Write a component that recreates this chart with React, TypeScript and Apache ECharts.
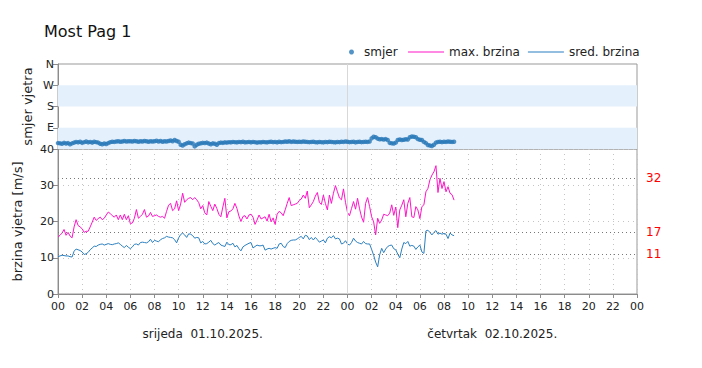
import React, { useEffect, useRef } from 'react';
import * as echarts from 'echarts';

const STEP_MIN = 10;
const TITLE = 'Most Pag 1';
const DATE_LABELS = ['srijeda  01.10.2025.', 'četvrtak  02.10.2025.'];
const DATE_CENTERS_H = [12, 36];
const DIR_LABELS: Record<number, string> = { 90: 'E', 180: 'S', 270: 'W', 360: 'N' };
const DIR_BANDS = [[0, 90], [180, 270]];
const THRESHOLDS = [32, 17, 11];
const MIDNIGHT_H = 24;
const DIR_AXIS_NAME = 'smjer vjetra';
const SPEED_AXIS_NAME = 'brzina vjetra [m/s]';

const MAX_SPEED = [
  15.7, 16.2, 16.8, 17.8, 16.2, 17,
  16, 15.5, 18.5, 20.5, 18.9, 18.5,
  18, 17, 17.3, 17.3, 18.5, 19.8,
  21.2, 20.3, 20.8, 21.2, 20.5, 20.9,
  21.8, 22.6, 22.2, 21.6, 21.2, 21.8,
  20.5, 21.8, 20.5, 22, 20.5, 21.6,
  19.4, 19.6, 20.9, 23.3, 20.9, 21.4,
  22, 23.3, 21.2, 21.5, 22.5, 21.4,
  21.6, 21.8, 21.4, 21.2, 21.4, 20.9,
  22.8, 24.5, 25, 23, 23.5, 25.7,
  23, 24.8, 27.8, 25.3, 26, 26.4,
  26.6, 26, 26.6, 26, 25.2, 23.5,
  24.4, 22.4, 21.8, 25.5, 24.2, 23,
  24.8, 23.6, 22, 21.3, 24, 26.4,
  21, 22.7, 22.9, 23.5, 25, 23.6,
  21.5, 20, 21.4, 21.6, 20.7, 21.8,
  22, 21.2, 19.2, 20.4, 21.8, 20.7,
  21, 21.3, 20.1, 22, 19.9, 21,
  19.2, 22, 22.8, 22.4, 21.6, 23.2,
  25, 26.6, 24.4, 24.6, 24.8, 25,
  25.8, 26.2, 27.3, 26.4, 28.4, 23.8,
  24.6, 25.5, 27, 28, 25.3, 24.7,
  27.3, 25, 23.2, 27.3, 25, 27.8,
  29.9, 28.2, 26.5, 26, 29, 25.3,
  22.5, 21.6, 23.6, 25.5, 23.4, 26.4,
  23.5, 21.2, 19.8, 25, 26.6, 24.1,
  21.3, 19.9, 16.3, 20.9, 19.5, 20.4,
  22, 21.8, 21.6, 22.3, 24.6, 21.7,
  24, 18.3, 23.2, 24.5, 26, 21.3,
  25, 26.6, 21.3, 21.1, 24.1, 23.2,
  20.8, 24.1, 24.6, 28.2, 29.1, 31.5,
  32.8, 33.7, 35.4, 28, 31.9, 29.1,
  31, 28.2, 29.6, 27.8, 27.4, 25.9,
];

const MEAN_SPEED = [
  10.3, 10.5, 10.7, 10.6, 10.5, 10.5,
  10.3, 10.2, 11.8, 12.4, 12.2, 12,
  11.6, 10.9, 11.1, 11.5, 12.2, 12.7,
  13.2, 13.1, 13.5, 13.7, 13.8, 13.5,
  13.7, 13.9, 13.7, 13.6, 13.8, 13.9,
  14.1, 13.7, 13.2, 12.8, 13.4, 12.9,
  12.5, 13, 13.7, 13.8, 13.5, 14.2,
  14.3, 14.2, 14.1, 14.4, 15.1, 14.2,
  14.8, 14.6, 14.4, 15, 15.3, 15.5,
  15.9, 15.7, 15.6, 15.5, 15, 14.1,
  15.5, 16.4, 16.8, 16.3, 15.6, 16.6,
  16.5, 16.1, 15.4, 15.6, 15.5, 14.1,
  14.5, 13.8, 13.9, 14.3, 14.8, 13.9,
  13.5, 13.9, 14.2, 13.5, 13.3, 13.1,
  14.3, 13.6, 13.6, 14, 13, 13.4,
  12.5, 11.9, 13, 13.4, 13.7, 14,
  14.2, 12.7, 13.1, 13.5, 13.3, 13.3,
  13.5, 12.1, 12.4, 12.6, 12.4, 12.6,
  12.8, 12.6, 13.8, 14, 13.1, 12.8,
  13.9, 14.5, 14.8, 14.9, 14.9, 15.2,
  15.6, 15.9, 15.2, 16.2, 16, 15,
  15.6, 14.9, 15.6, 15, 14.3, 14.6,
  14.9, 14.1, 15.4, 15.8, 15.5, 16.1,
  15.2, 15.4, 15.2, 13.8, 14, 14.7,
  13.8, 13.5, 14.2, 15.4, 14.6, 14.2,
  14, 13.8, 14.5, 13.9, 13.8, 13.8,
  12.3, 10.7, 8.8, 7.5, 10.8, 12.6,
  11.4, 12.4, 13.1, 13.4, 13.5, 12.5,
  12.2, 11, 10, 12.4, 14.2, 13.9,
  14.5, 13.2, 13.4, 13.2, 12.3, 13,
  13.5, 11.6, 11.2, 17.4, 17.6, 17,
  16.3, 17, 17.5, 16.5, 16.8, 16.5,
  16.7, 16.5, 15.3, 16.8, 16.3, 16.1,
];

const DIRECTION = [
  25, 24, 22, 26, 23, 25,
  20, 24, 27, 30, 28, 31,
  26, 29, 32, 28, 30, 27,
  31, 29, 27, 22, 20, 23,
  21, 25, 29, 31, 30, 32,
  33, 31, 32, 34, 32, 33,
  33, 32, 34, 33, 31, 33,
  32, 34, 33, 31, 33, 32,
  33, 35, 32, 34, 31, 33,
  32, 34, 36, 33, 38, 34,
  31, 18, 15, 20, 24, 27,
  25, 23, 11, 18, 22, 24,
  26, 25, 27, 23, 20, 24,
  22, 18, 25, 27, 26, 28,
  27, 29, 28, 30, 29, 28,
  30, 29, 31, 28, 29, 30,
  28, 30, 29, 27, 29, 28,
  30, 29, 28, 30, 31, 29,
  30, 28, 31, 29, 30, 32,
  31, 33, 30, 32, 31, 30,
  31, 30, 32, 31, 30, 29,
  30, 31, 29, 28, 30, 29,
  28, 30, 29, 31, 30, 29,
  28, 30, 29, 31, 30, 32,
  31, 29, 30, 31, 28, 30,
  31, 29, 30, 31, 30, 32,
  45, 52, 50, 44, 41, 42,
  40, 42, 38, 26, 24, 23,
  27, 38, 40, 38, 39, 41,
  40, 50, 53, 52, 50, 42,
  39, 38, 30, 25, 17, 15,
  13, 18, 27, 30, 31, 29,
  31, 30, 32, 31, 30, 31,
];

const FONT = 'DejaVu Sans';
const PINK = '#ff14c8';
const BLUE = '#2b7fbf';
const DOT = '#2878b8';
const AXIS_GREY = '#8c8c8c';

const toPoints = (arr: number[]) => arr.map((v, i) => [(i * STEP_MIN) / 60, v]);
const pad2 = (n: number) => (n < 10 ? '0' + n : '' + n);

export default function App() {
  const ref = useRef<HTMLDivElement>(null);
  useEffect(() => {
    document.body.style.margin = '0';
    if (!ref.current) return;
    const chart = echarts.init(ref.current, null, { renderer: 'svg' });
    const option: any = {
      animation: false,
      backgroundColor: '#fff',
      textStyle: { fontFamily: FONT },
      title: {
        text: TITLE,
        left: 39,
        top: 18,
        textStyle: { fontFamily: FONT, fontSize: 16, fontWeight: 'normal', color: '#111' },
      },
      legend: [
        {
          data: [{ name: 'smjer', icon: 'circle' }],
          left: 344,
          top: 41,
          itemWidth: 5,
          itemHeight: 5,
          itemGap: 10,
          textStyle: { fontFamily: FONT, fontSize: 12, color: '#222', padding: [0, 0, 0, 5] },
        },
        {
          data: [
            { name: 'max. brzina', icon: 'rect', itemStyle: { color: PINK } },
            { name: 'sred. brzina', icon: 'rect', itemStyle: { color: BLUE } },
          ],
          left: 403,
          top: 41,
          itemWidth: 36,
          itemHeight: 1,
          itemGap: 8,
          textStyle: { fontFamily: FONT, fontSize: 12, color: '#222' },
        },
      ],
      grid: [
        { left: 58, right: 65, top: 64, height: 85, show: true, borderColor: '#999', borderWidth: 1, backgroundColor: 'transparent' },
        { left: 58, right: 65, top: 149, height: 145, show: true, borderColor: '#999', borderWidth: 1, backgroundColor: 'transparent' },
      ],
      xAxis: [
        {
          gridIndex: 0, type: 'value', min: 0, max: 48, interval: 2,
          axisLabel: { show: false }, axisTick: { show: false }, axisLine: { show: false }, splitLine: { show: false },
        },
        {
          gridIndex: 1, type: 'value', min: 0, max: 48, interval: 2,
          axisLabel: { formatter: (v: number) => pad2(v % 24), fontFamily: FONT, fontSize: 11, color: '#222', margin: 7 },
          axisTick: { show: true, length: 4, lineStyle: { color: AXIS_GREY } },
          axisLine: { show: true, onZero: false, lineStyle: { color: AXIS_GREY } },
          splitLine: { show: true, lineStyle: { type: [1, 4], color: '#c4c4c4' } },
        },
      ],
      yAxis: [
        {
          gridIndex: 0, type: 'value', min: 0, max: 360, interval: 90,
          axisLabel: { formatter: (v: number) => DIR_LABELS[v] || '', fontFamily: FONT, fontSize: 11, color: '#222', margin: 4 },
          axisTick: { show: true, length: 5, lineStyle: { color: AXIS_GREY } },
          axisLine: { show: true, lineStyle: { color: AXIS_GREY } },
          splitLine: { show: false },
        },
        {
          gridIndex: 1, type: 'value', min: 0, max: 40, interval: 10,
          axisLabel: { fontFamily: FONT, fontSize: 11, color: '#222', margin: 4 },
          axisTick: { show: true, length: 5, lineStyle: { color: AXIS_GREY } },
          axisLine: { show: true, lineStyle: { color: AXIS_GREY } },
          splitLine: { show: true, lineStyle: { type: [1, 4], color: '#c4c4c4' } },
        },
      ],
      series: [
        {
          name: 'smjer', type: 'scatter', xAxisIndex: 0, yAxisIndex: 0,
          data: toPoints(DIRECTION), symbolSize: 4.5, itemStyle: { color: DOT }, z: 5,
          markArea: {
            silent: true,
            itemStyle: { color: '#e4f0fc' },
            data: DIR_BANDS.map(([a, b]) => [{ yAxis: a }, { yAxis: b }]),
          },
          markLine: {
            silent: true, symbol: 'none', label: { show: false },
            lineStyle: { color: '#d8d8d8', type: 'solid', width: 1 },
            data: [{ xAxis: MIDNIGHT_H }],
          },
        },
        {
          name: 'max. brzina', type: 'line', xAxisIndex: 1, yAxisIndex: 1,
          data: toPoints(MAX_SPEED), showSymbol: false, lineStyle: { color: PINK, width: 1 }, itemStyle: { color: PINK }, z: 4,
          markLine: {
            silent: true, symbol: 'none',
            lineStyle: { color: '#777', type: [1, 3], width: 1 },
            label: { show: true, position: 'end', distance: 9, color: '#ff0000', fontFamily: FONT, fontSize: 12, formatter: '{c}' },
            data: THRESHOLDS.map((t) => ({ yAxis: t })),
          },
        },
        {
          name: 'sred. brzina', type: 'line', xAxisIndex: 1, yAxisIndex: 1,
          data: toPoints(MEAN_SPEED), showSymbol: false, lineStyle: { color: BLUE, width: 1 }, itemStyle: { color: BLUE }, z: 4,
          markLine: {
            silent: true, symbol: 'none', label: { show: false },
            lineStyle: { color: '#d8d8d8', type: 'solid', width: 1 },
            data: [{ xAxis: MIDNIGHT_H }],
          },
        },
      ],
    };
    chart.setOption(option);
    const graphics: any[] = DATE_LABELS.map((t, i) => {
      const px = chart.convertToPixel({ xAxisIndex: 1 } as any, DATE_CENTERS_H[i]) as number;
      return {
        type: 'text', x: px, y: 334,
        style: { text: t, fontFamily: FONT, fontSize: 12, fill: '#222', align: 'center', verticalAlign: 'middle' },
      };
    });
    const dirMidY = chart.convertToPixel({ yAxisIndex: 0 } as any, 180) as number;
    const speedMidY = chart.convertToPixel({ yAxisIndex: 1 } as any, 20) as number;
    graphics.push({
      type: 'text', x: 27, y: dirMidY, rotation: Math.PI / 2,
      style: { text: DIR_AXIS_NAME, fontFamily: FONT, fontSize: 13, fill: '#222', align: 'center', verticalAlign: 'middle' },
    });
    graphics.push({
      type: 'text', x: 17, y: speedMidY, rotation: Math.PI / 2,
      style: { text: SPEED_AXIS_NAME, fontFamily: FONT, fontSize: 13, fill: '#222', align: 'center', verticalAlign: 'middle' },
    });
    chart.setOption({ graphic: graphics });
    return () => chart.dispose();
  }, []);
  return <div ref={ref} style={{ width: 702, height: 368 }} />;
}
